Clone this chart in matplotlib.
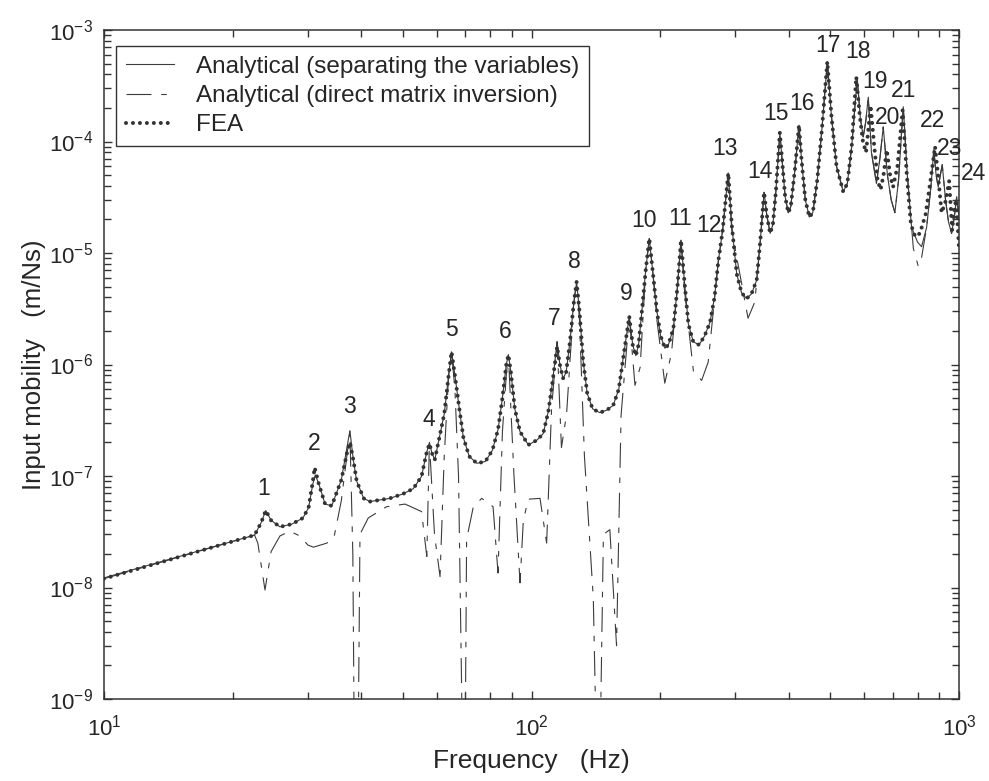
import numpy as np
import matplotlib.pyplot as plt

plt.rcParams['font.family'] = ['Liberation Sans', 'DejaVu Sans']
plt.rcParams['mathtext.fontset'] = 'custom'
plt.rcParams['mathtext.rm'] = 'Liberation Sans'
plt.rcParams['mathtext.default'] = 'regular'
plt.rcParams['axes.unicode_minus'] = False
plt.rcParams['lines.scale_dashes'] = False

# analytical, separating the variables (solid)
sep_f = [10, 22.5, 23.3, 23.9, 24.6, 25.8, 27.5, 29.2, 30.1, 30.8, 31.2, 31.8, 32.9, 34.1,
         35.9, 37.0, 37.6, 38.3, 39.0, 40.5, 41.9, 46.6, 50.0, 52.9, 55.3, 56.8, 57.7, 58.5,
         59.4, 61.0, 62.5, 64.0, 65.0, 66.2, 67.8, 69.3, 71.5, 74.5, 78.0, 81.0, 83.5, 85.5,
         87.3, 88.3, 89.5, 91.4, 94.0, 98.3, 103.0, 106.5, 109.5, 112.0, 114.8, 116.5, 118.5,
         120.5, 123.0, 125.5, 127.5, 129.5, 132.0, 135.0, 139.0, 144.5, 150.0, 155.3, 160.0,
         164.0, 169.3, 172.5, 175.4, 178.0, 180.9, 185.0, 188.6, 192.0, 196.5, 200.5, 205.1,
         209.0, 214.7, 219.5, 223.7, 227.5, 232.8, 239.0, 246.6, 254.0, 261.6, 268.0, 273.6,
         280.0, 288.6, 294.0, 302.0, 310.0, 318.5, 327.0, 336.3, 343.0, 350.0, 355.0, 361.6,
         367.0, 373.0, 381.0, 386.0, 392.0, 398.7, 404.0, 413.0, 422.4, 428.0, 437.0, 446.7,
         455.0, 466.0, 478.0, 492.0, 503.0, 517.0, 536.0, 548.0, 561.0, 578.0, 588.0, 597.0,
         605.0, 613.5, 624.0, 641.0, 653.0, 665.0, 680.0, 694.0, 708.0, 722.0, 740.7, 757.0,
         774.5, 800.0, 817.6, 840.0, 860.0, 873.0, 884.0, 894.0, 913.7, 930.0, 945.0, 960.9,
         975.0, 987.6, 1000.0]
sep_v = [1.22e-8, 2.95e-8, 3.8e-8, 4.9e-8, 4.0e-8, 3.5e-8, 3.7e-8, 4.2e-8, 5.2e-8, 8.5e-8,
         1.02e-7, 8.5e-8, 5.6e-8, 5.4e-8, 9.2e-8, 1.8e-7, 2.55e-7, 1.4e-7, 9.0e-8, 6.3e-8,
         5.9e-8, 6.3e-8, 6.9e-8, 7.7e-8, 9.9e-8, 1.6e-7, 2.0e-7, 1.6e-7, 1.4e-7, 2.3e-7,
         3.6e-7, 8.0e-7, 1.3e-6, 8.0e-7, 4.0e-7, 2.2e-7, 1.5e-7, 1.3e-7, 1.35e-7, 1.7e-7,
         2.6e-7, 5.0e-7, 1.0e-6, 1.22e-6, 8.5e-7, 4.0e-7, 2.5e-7, 1.9e-7, 2.1e-7, 2.4e-7,
         3.8e-7, 7.0e-7, 1.6e-6, 1.0e-6, 7.5e-7, 8.5e-7, 1.6e-6, 3.5e-6, 5.5e-6, 3.0e-6,
         1.1e-6, 5.5e-7, 4.0e-7, 3.7e-7, 3.9e-7, 4.3e-7, 6.0e-7, 1.17e-6, 2.7e-6, 1.5e-6,
         1.2e-6, 1.5e-6, 2.8e-6, 7.0e-6, 1.35e-5, 7.0e-6, 3.0e-6, 1.8e-6, 1.4e-6, 1.5e-6,
         2.1e-6, 5.0e-6, 1.3e-5, 6.0e-6, 2.3e-6, 1.6e-6, 1.5e-6, 1.8e-6, 2.4e-6, 4.0e-6,
         8.5e-6, 1.6e-5, 5.2e-5, 1.8e-5, 6.5e-6, 4.4e-6, 3.9e-6, 4.3e-6, 5.7e-6, 1.3e-5,
         3.5e-5, 2.2e-5, 1.5e-5, 1.8e-5, 3.6e-5, 1.2e-4, 6.5e-5, 3.2e-5, 2.3e-5, 2.6e-5,
         5.5e-5, 1.4e-4, 7.0e-5, 3.0e-5, 2.1e-5, 2.3e-5, 4.5e-5, 1.3e-4, 5.2e-4, 1.7e-4,
         6.0e-5, 3.55e-5, 4.2e-5, 9.0e-5, 3.7e-4, 1.6e-4, 1.1e-4, 1.5e-4, 2.5e-4, 8.0e-5,
         4.2e-5, 7.0e-5, 1.35e-4, 5.0e-5, 3.0e-5, 2.3e-5, 4.5e-5, 2.05e-4, 5.0e-5, 1.7e-5,
         1.25e-5, 1.14e-5, 1.7e-5, 4.0e-5, 8.4e-5, 5.0e-5, 3.9e-5, 6.2e-5, 3.0e-5, 1.9e-5,
         1.5e-5, 2.1e-5, 3.2e-5, 2.1e-5]

# analytical, direct matrix inversion (dash)
inv_f = [10, 22.5, 22.9, 23.8, 24.6, 25.8, 27.2, 28.7, 30.0, 30.9, 33.2, 34.5, 35.9, 37.6,
         38.2, 38.6, 39.2, 39.7, 41.5, 45.8, 50.6, 55.3, 56.9, 57.7, 59.3, 61.1, 62.5, 64.0,
         65.0, 66.2, 67.5, 69.3, 69.8, 70.5, 73.1, 76.5, 81.3, 83.5, 85.5, 87.3, 88.3, 91.0,
         94.0, 95.7, 98.3, 104.7, 108.5, 111.4, 114.8, 117.5, 120.8, 125.5, 127.5, 129.5,
         133.0, 139.5, 142.8, 144.0, 147.3, 152.5, 158.1, 162.0, 169.3, 174.6, 179.5, 185.0,
         188.6, 192.0, 196.5, 205.0, 212.6, 219.5, 223.7, 227.5, 239.3, 250.0, 259.0, 273.6,
         280.0, 288.6, 294.0, 321.0, 333.0, 343.0, 350.0, 355.0, 361.6, 367.0, 373.0, 381.0,
         386.0, 392.0, 398.7, 404.0, 413.0, 422.4, 428.0, 437.0, 446.7, 455.0, 466.0, 478.0,
         492.0, 503.0, 517.0, 536.0, 548.0, 561.0, 578.0, 588.0, 597.0, 605.0, 613.5, 624.0,
         641.0, 653.0, 665.0, 680.0, 694.0, 708.0, 722.0, 740.7, 757.0, 774.5, 782.0, 803.0,
         815.0, 840.0, 860.0, 873.0, 884.0, 894.0, 913.7, 930.0, 945.0, 960.9, 975.0, 987.6,
         1000.0]
inv_v = [1.2e-8, 2.95e-8, 2.5e-8, 9.5e-9, 2.1e-8, 2.9e-8, 3.2e-8, 2.9e-8, 2.4e-8, 2.3e-8,
         2.5e-8, 2.8e-8, 6.0e-8, 2.5e-7, 2.0e-8, 1e-10, 1e-10, 3.0e-8, 4.2e-8, 5.3e-8,
         5.6e-8, 4.8e-8, 1.9e-8, 2.0e-7, 3.0e-8, 1.25e-8, 1.5e-7, 8.0e-7, 1.3e-6, 6.0e-7,
         1.0e-7, 1e-10, 1e-10, 2.7e-8, 5.3e-8, 6.3e-8, 5.3e-8, 1.35e-8, 2.5e-7, 8.0e-7,
         1.22e-6, 1.0e-7, 1.1e-8, 4.0e-8, 6.2e-8, 6.3e-8, 2.5e-8, 4.0e-7, 1.6e-6, 1.8e-7,
         3.6e-7, 3.5e-6, 5.5e-6, 2.5e-6, 1.5e-7, 8.0e-9, 1e-10, 1e-10, 3.0e-8, 3.3e-8,
         3.0e-9, 3.5e-7, 2.7e-6, 6.5e-7, 9.4e-7, 7.0e-6, 1.35e-5, 7.0e-6, 2.5e-6, 6.8e-7,
         1.27e-6, 5.0e-6, 1.3e-5, 5.0e-6, 8.6e-7, 7.2e-7, 1.05e-6, 8.5e-6, 1.6e-5, 5.2e-5,
         1.6e-5, 2.6e-6, 3.65e-6, 1.3e-5, 3.5e-5, 2.2e-5, 1.5e-5, 1.8e-5, 3.6e-5, 1.2e-4,
         6.5e-5, 3.2e-5, 2.3e-5, 2.6e-5, 5.5e-5, 1.4e-4, 7.0e-5, 3.0e-5, 2.1e-5, 2.3e-5,
         4.5e-5, 1.3e-4, 5.2e-4, 1.7e-4, 6.0e-5, 3.55e-5, 4.2e-5, 9.0e-5, 3.7e-4, 1.6e-4,
         1.1e-4, 1.5e-4, 2.5e-4, 8.0e-5, 4.2e-5, 7.0e-5, 1.35e-4, 5.0e-5, 3.0e-5, 2.3e-5,
         4.5e-5, 2.05e-4, 5.0e-5, 1.7e-5, 1.1e-5, 7.6e-6, 8.5e-6, 1.7e-5, 4.0e-5, 8.4e-5,
         5.0e-5, 3.9e-5, 6.2e-5, 3.0e-5, 1.9e-5, 1.5e-5, 2.1e-5, 3.2e-5, 2.1e-5]

# FEA (dotted)
fea_f = [10, 22.5, 23.3, 23.9, 24.6, 25.8, 27.5, 29.2, 30.1, 30.8, 31.1, 31.8, 32.9, 34.1,
         35.9, 37.0, 37.6, 38.3, 39.0, 40.5, 41.9, 46.6, 50.0, 52.9, 55.3, 56.8, 57.7, 58.5,
         59.4, 61.0, 62.5, 64.0, 65.0, 66.2, 67.8, 69.3, 71.5, 74.5, 78.0, 81.0, 83.5, 85.5,
         87.3, 88.3, 89.5, 91.4, 94.0, 98.3, 103.0, 106.5, 109.5, 112.0, 114.8, 116.5, 118.5,
         120.5, 123.0, 125.5, 127.5, 129.5, 132.0, 135.0, 139.0, 144.5, 150.0, 155.3, 160.0,
         164.0, 169.3, 172.5, 175.4, 178.0, 180.9, 185.0, 188.6, 192.0, 196.5, 200.5, 205.1,
         209.0, 214.7, 219.5, 223.7, 227.5, 232.8, 239.0, 246.6, 254.0, 261.6, 268.0, 273.6,
         280.0, 288.6, 294.0, 302.0, 310.0, 318.5, 327.0, 336.3, 343.0, 350.0, 355.0, 361.6,
         367.0, 373.0, 381.0, 386.0, 392.0, 398.7, 404.0, 413.0, 422.4, 428.0, 437.0, 446.7,
         455.0, 466.0, 478.0, 492.0, 503.0, 517.0, 536.0, 548.0, 561.0, 575.0, 586.0, 596.0,
         606.0, 614.0, 621.0, 632.0, 645.0, 655.6, 666.0, 677.7, 690.0, 701.0, 718.0, 738.0,
         755.0, 772.0, 790.0, 810.0, 835.0, 858.0, 879.0, 893.0, 910.7, 928.0, 948.4, 963.9,
         975.0, 985.0, 1000.0]
fea_v = [1.2e-8, 2.95e-8, 3.8e-8, 4.9e-8, 4.0e-8, 3.5e-8, 3.7e-8, 4.2e-8, 5.2e-8, 9.0e-8,
         1.19e-7, 8.5e-8, 5.6e-8, 5.4e-8, 9.2e-8, 1.6e-7, 2.0e-7, 1.4e-7, 9.0e-8, 6.3e-8,
         5.9e-8, 6.3e-8, 6.9e-8, 7.7e-8, 9.9e-8, 1.6e-7, 1.95e-7, 1.6e-7, 1.4e-7, 2.3e-7,
         3.6e-7, 8.0e-7, 1.3e-6, 8.0e-7, 4.0e-7, 2.2e-7, 1.5e-7, 1.3e-7, 1.35e-7, 1.7e-7,
         2.6e-7, 5.0e-7, 1.0e-6, 1.22e-6, 8.5e-7, 4.0e-7, 2.5e-7, 1.9e-7, 2.1e-7, 2.4e-7,
         3.8e-7, 7.0e-7, 1.45e-6, 1.0e-6, 7.5e-7, 8.5e-7, 1.6e-6, 3.5e-6, 5.5e-6, 3.0e-6,
         1.1e-6, 5.5e-7, 4.0e-7, 3.7e-7, 3.9e-7, 4.3e-7, 6.0e-7, 1.17e-6, 2.7e-6, 1.5e-6,
         1.2e-6, 1.5e-6, 2.8e-6, 7.0e-6, 1.35e-5, 7.0e-6, 3.0e-6, 1.8e-6, 1.4e-6, 1.5e-6,
         2.1e-6, 5.0e-6, 1.3e-5, 6.0e-6, 2.3e-6, 1.6e-6, 1.5e-6, 1.8e-6, 2.4e-6, 4.0e-6,
         8.5e-6, 1.6e-5, 5.2e-5, 1.8e-5, 6.5e-6, 4.4e-6, 3.9e-6, 4.3e-6, 5.7e-6, 1.3e-5,
         3.5e-5, 2.2e-5, 1.5e-5, 1.8e-5, 3.6e-5, 1.2e-4, 6.5e-5, 3.2e-5, 2.3e-5, 2.6e-5,
         5.5e-5, 1.4e-4, 7.0e-5, 3.0e-5, 2.1e-5, 2.3e-5, 4.5e-5, 1.3e-4, 5.2e-4, 1.7e-4,
         6.0e-5, 3.55e-5, 4.2e-5, 9.0e-5, 3.8e-4, 1.7e-4, 1.0e-4, 8.0e-5, 1.3e-4, 2.1e-4,
         1.0e-4, 4.5e-5, 3.7e-5, 5.0e-5, 8.4e-5, 5.0e-5, 3.9e-5, 6.0e-5, 1.9e-4, 5.0e-5,
         1.8e-5, 1.4e-5, 1.5e-5, 2.2e-5, 4.5e-5, 9.0e-5, 5.0e-5, 2.3e-5, 2.8e-5, 4.4e-5,
         1.6e-5, 2.5e-5, 3.0e-5, 1.1e-5]

# mode numbers and where they are written
mode_num = [str(i) for i in range(1, 25)]
mode_f = [23.6, 31.0, 37.5, 57.4, 65.0, 86.7, 112.9, 125.8, 166.3, 183.2, 222.3, 260.5,
          283.5, 342.6, 374.0, 428.6, 493.0, 581.4, 635.5, 679.8, 743.6, 867.0, 952.6, 1079.0]
mode_v = [7.8e-8, 1.96e-7, 4.2e-7, 3.2e-7, 2.04e-6, 1.97e-6, 2.6e-6, 8.35e-6, 4.35e-6,
          1.95e-5, 2.05e-5, 1.75e-5, 8.7e-5, 5.37e-5, 1.79e-4, 2.2e-4, 7.3e-4, 6.4e-4,
          3.43e-4, 1.65e-4, 2.86e-4, 1.54e-4, 8.7e-5, 5.2e-5]

txt = '#262626'
ln = '#3c3c3c'

fig = plt.figure(figsize=(9.89, 7.81), dpi=100)
ax = fig.add_axes([104/989, 82/781, 855/989, 669/781])

ax.plot(sep_f, sep_v, color=ln, lw=0.8, label='Analytical (separating the variables)')
ax.plot(inv_f, inv_v, color=ln, lw=0.8, dashes=(18, 7, 4, 7),
        label='Analytical (direct matrix inversion)')
ax.plot(fea_f, fea_v, color='#333333', lw=2.9, dashes=(0.01, 5), dash_capstyle='round',
        label='FEA')

for s, f, v in zip(mode_num, mode_f, mode_v):
    ax.text(f, v, s, ha='center', va='center', fontsize=16.5, color=txt, clip_on=False)

ax.set_xscale('log')
ax.set_yscale('log')
ax.set_xlim(10, 1000)
ax.set_ylim(1e-9, 1e-3)

ax.tick_params(which='both', direction='in', top=True, right=True, colors='#333333',
               labelcolor=txt, labelsize=16, width=1)
ax.tick_params(which='major', length=6)
ax.tick_params(which='minor', length=5)
ax.tick_params(axis='x', pad=11)
ax.tick_params(axis='y', pad=8)
for sp in ax.spines.values():
    sp.set_color('#333333')
    sp.set_linewidth(1.1)

ax.set_xlabel('Frequency   (Hz)', fontsize=19, color=txt)
ax.xaxis.set_label_coords(0.5, -0.075)
ax.set_ylabel('Input mobility   (m/Ns)', fontsize=18.5, color=txt)
ax.yaxis.set_label_coords(-0.068, 0.5)

leg = ax.legend(loc='upper left', bbox_to_anchor=(0.014, 0.976), borderaxespad=0,
                fontsize=17.5, handlelength=2.0, handletextpad=0.9, labelspacing=0.3,
                fancybox=False, framealpha=1, edgecolor='#333333', borderpad=0.4)
leg.get_frame().set_linewidth(1.0)
for t in leg.get_texts():
    t.set_color(txt)

fig.savefig('out.png', dpi=100)
